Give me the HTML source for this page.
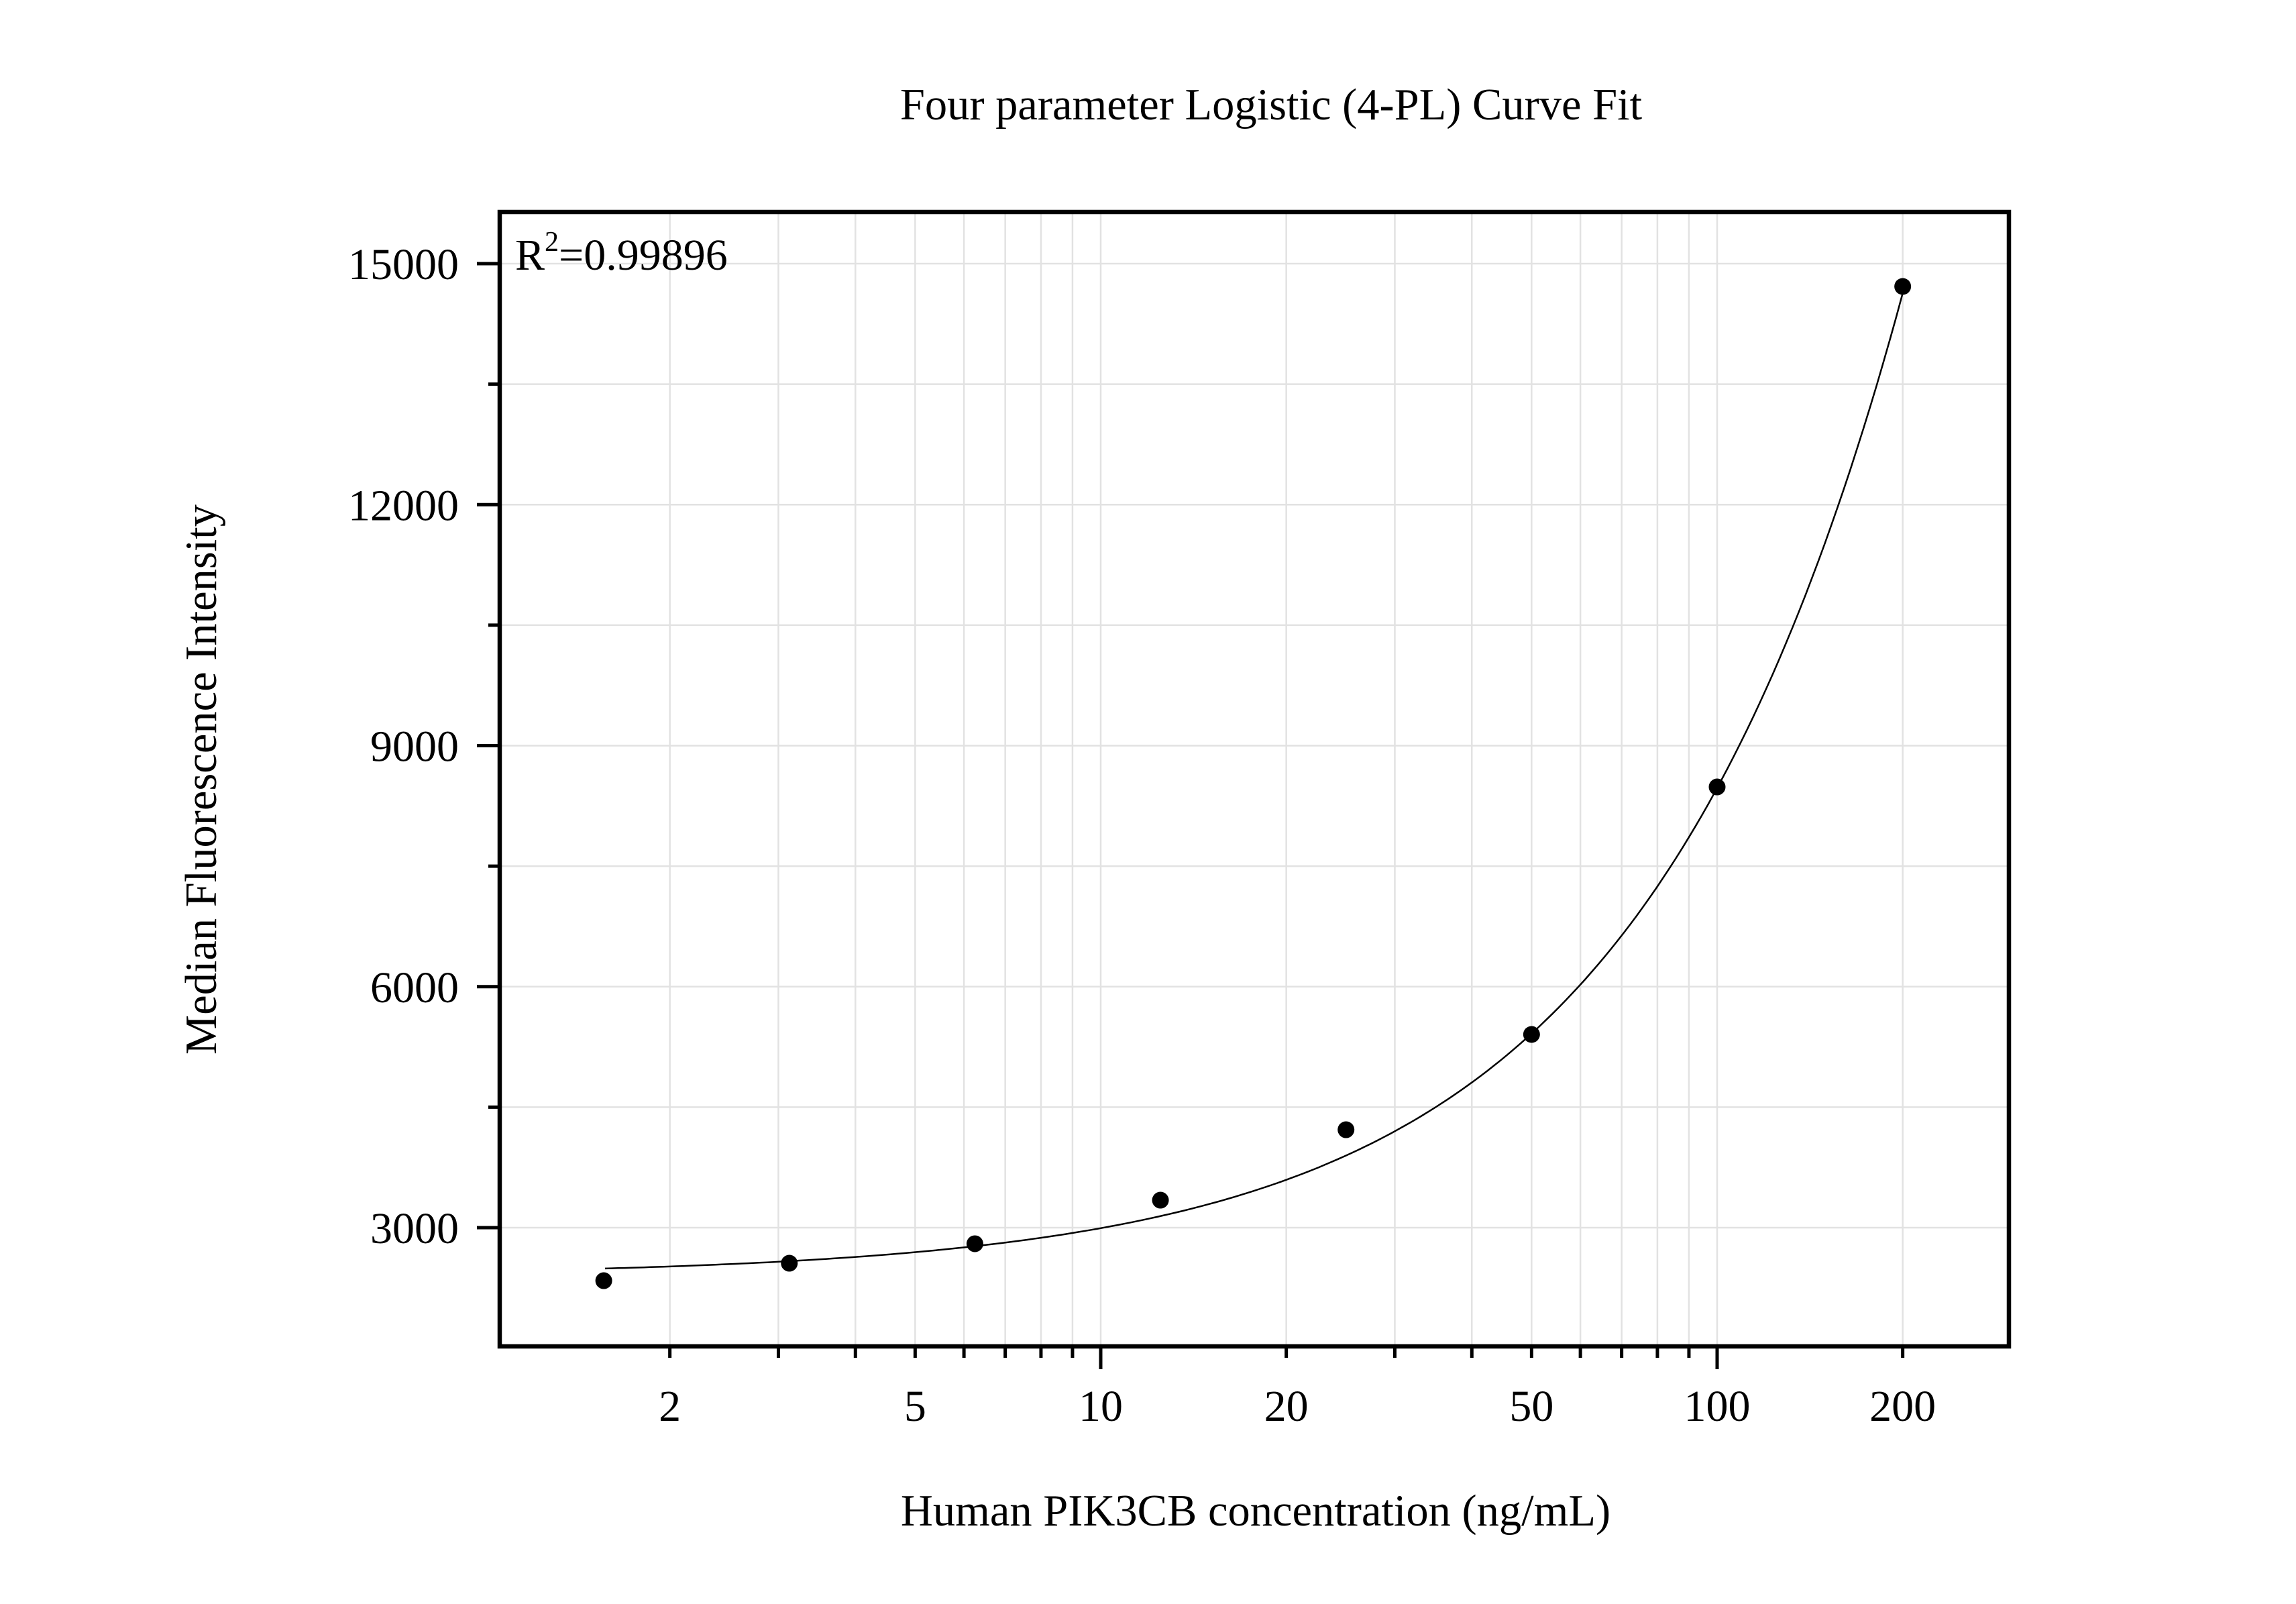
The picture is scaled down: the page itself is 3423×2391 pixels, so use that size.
<!DOCTYPE html>
<html><head><meta charset="utf-8"><style>
html,body{margin:0;padding:0;background:#fff;}
svg{display:block;}
text{font-family:"Liberation Serif",serif;fill:#000;}
</style></head><body>
<svg id="s" width="3423" height="2391" viewBox="0 0 3423 2391" xmlns="http://www.w3.org/2000/svg">
<rect width="3423" height="2391" fill="#fff"/>
<g id="grid" stroke="#e2e2e2" stroke-width="2.5"></g>
<g id="ticks" stroke="#000" stroke-width="5"></g>
<path id="curve" fill="none" stroke="#000" stroke-width="2.5"/>
<g id="pts" fill="#000"></g>
<rect x="745" y="316" width="2250" height="1691" fill="none" stroke="#000" stroke-width="6.5"/>
<text x="1895" y="178" font-size="66.5" text-anchor="middle">Four parameter Logistic (4-PL) Curve Fit</text>
<text x="1872" y="2274" font-size="66.5" text-anchor="middle">Human PIK3CB concentration (ng/mL)</text>
<text x="0" y="0" font-size="66.5" text-anchor="middle" transform="translate(322,1162) rotate(-90)">Median Fluorescence Intensity</text>
<text x="768" y="402" font-size="66">R<tspan font-size="42" dy="-28">2</tspan><tspan dy="28">=0.99896</tspan></text>
<g id="labels" font-size="66"></g>
</svg>
<script>
var NS="http://www.w3.org/2000/svg";
function X(c){return 1641+919*Math.log10(c/10);}
function Y(v){return 393+(15000-v)*0.11975;}
function el(p,t,a,txt){var e=document.createElementNS(NS,t);for(var k in a)e.setAttribute(k,a[k]);if(txt!==undefined)e.textContent=txt;document.getElementById(p).appendChild(e);}
var L=745,R=2995,T=316,B=2007;
[1,10,100].forEach(function(d){for(var m=1;m<10;m++){var c=d*m,x=X(c);if(x<=L+4||x>=R-4)continue;
 el("grid","line",{x1:x,y1:T,x2:x,y2:B});
 var major=(m==1);el("ticks","line",{x1:x,y1:B,x2:x,y2:B+(major?34:17)});}});
[[2,"2"],[5,"5"],[10,"10"],[20,"20"],[50,"50"],[100,"100"],[200,"200"]].forEach(function(p){el("labels","text",{x:X(p[0]),y:2118,"text-anchor":"middle"},p[1]);});
for(var v=1500;v<=16500;v+=1500){var y=Y(v);if(y<=T+4||y>=B-4)continue;
 el("grid","line",{x1:L,y1:y,x2:R,y2:y});
 var major=(v%3000==0);el("ticks","line",{x1:L,y1:y,x2:L-(major?34:17),y2:y});
 if(major)el("labels","text",{x:684,y:y+23,"text-anchor":"end"},String(v));}
var d="";for(var i=0;i<=200;i++){var lc=Math.log10(1.57)+(Math.log10(200)-Math.log10(1.57))*i/200;var c=Math.pow(10,lc);
 var v=2400+58*Math.pow(c,1.01);d+=(i?"L":"M")+X(c).toFixed(1)+","+Y(v).toFixed(1);}
document.getElementById("curve").setAttribute("d",d);
[[1.5625,2340],[3.125,2557],[6.25,2800],[12.5,3342],[25,4219],[50,5405],[100,8486],[200,14716]].forEach(function(p){el("pts","circle",{cx:X(p[0]),cy:Y(p[1]),r:12.5});});
</script>
</body></html>
